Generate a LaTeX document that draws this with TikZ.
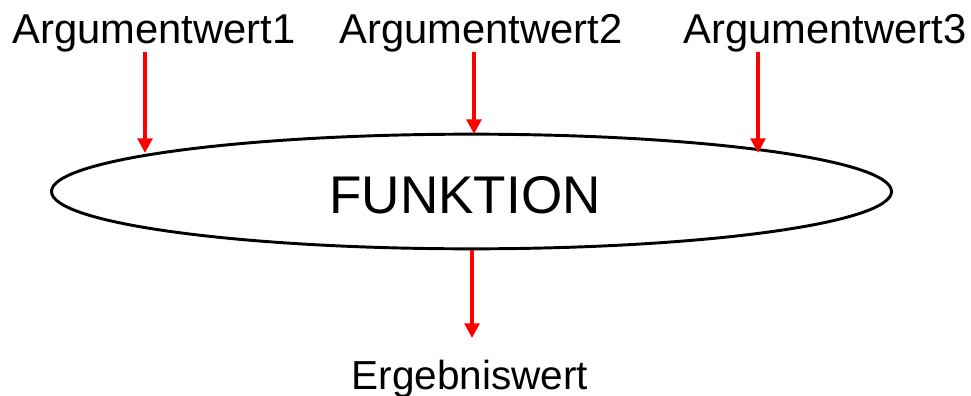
\documentclass[tikz,border=0pt]{standalone}
\usepackage{fontspec}
\setmainfont{Liberation Sans}
\usetikzlibrary{arrows.meta,shapes.geometric}
\begin{document}
\begin{tikzpicture}[x=0.75pt,y=-0.75pt,
  lbl/.style={inner sep=0pt,anchor=base,font=\fontsize{31.3}{38}\selectfont},
  arr/.style={draw=red,line width=3pt,-{Triangle[length=11pt,width=11pt]}},
  fn/.style={draw,ellipse,line width=2.2pt,minimum width=630pt,minimum height=86pt,inner sep=0pt}]
\useasboundingbox (0,0) rectangle (971,396);
\node[lbl] (a1) at (154,43) {Argumentwert1};
\node[lbl] (a2) at (481,43) {Argumentwert2};
\node[lbl] (a3) at (825,43) {Argumentwert3};
\node[fn] (f) at (471.5,191.5) {};
\node[inner sep=0pt,anchor=base,font=\fontsize{39.8}{48}\selectfont] (ft) at (465,213) {FUNKTION};
\node[lbl,font=\fontsize{30.4}{37}\selectfont] (e) at (470,389) {Ergebniswert};
\draw[arr] ([xshift=-6.75pt]a1.south) -- ([xshift=-6.75pt,yshift=28.9pt]a1.south |- f.center);
\draw[arr] ([xshift=-5.25pt]a2.south) -- ([xshift=-5.25pt,yshift=-1pt]a2.south |- f.north);
\draw[arr] ([xshift=-50.25pt]a3.south) -- ([xshift=-50.25pt,yshift=28.9pt]a3.south |- f.center);
\draw[arr,shorten >=16pt] ([xshift=0.4pt]f.south) -- ([xshift=0.4pt]f.south |- e.north);
\end{tikzpicture}
\end{document}
